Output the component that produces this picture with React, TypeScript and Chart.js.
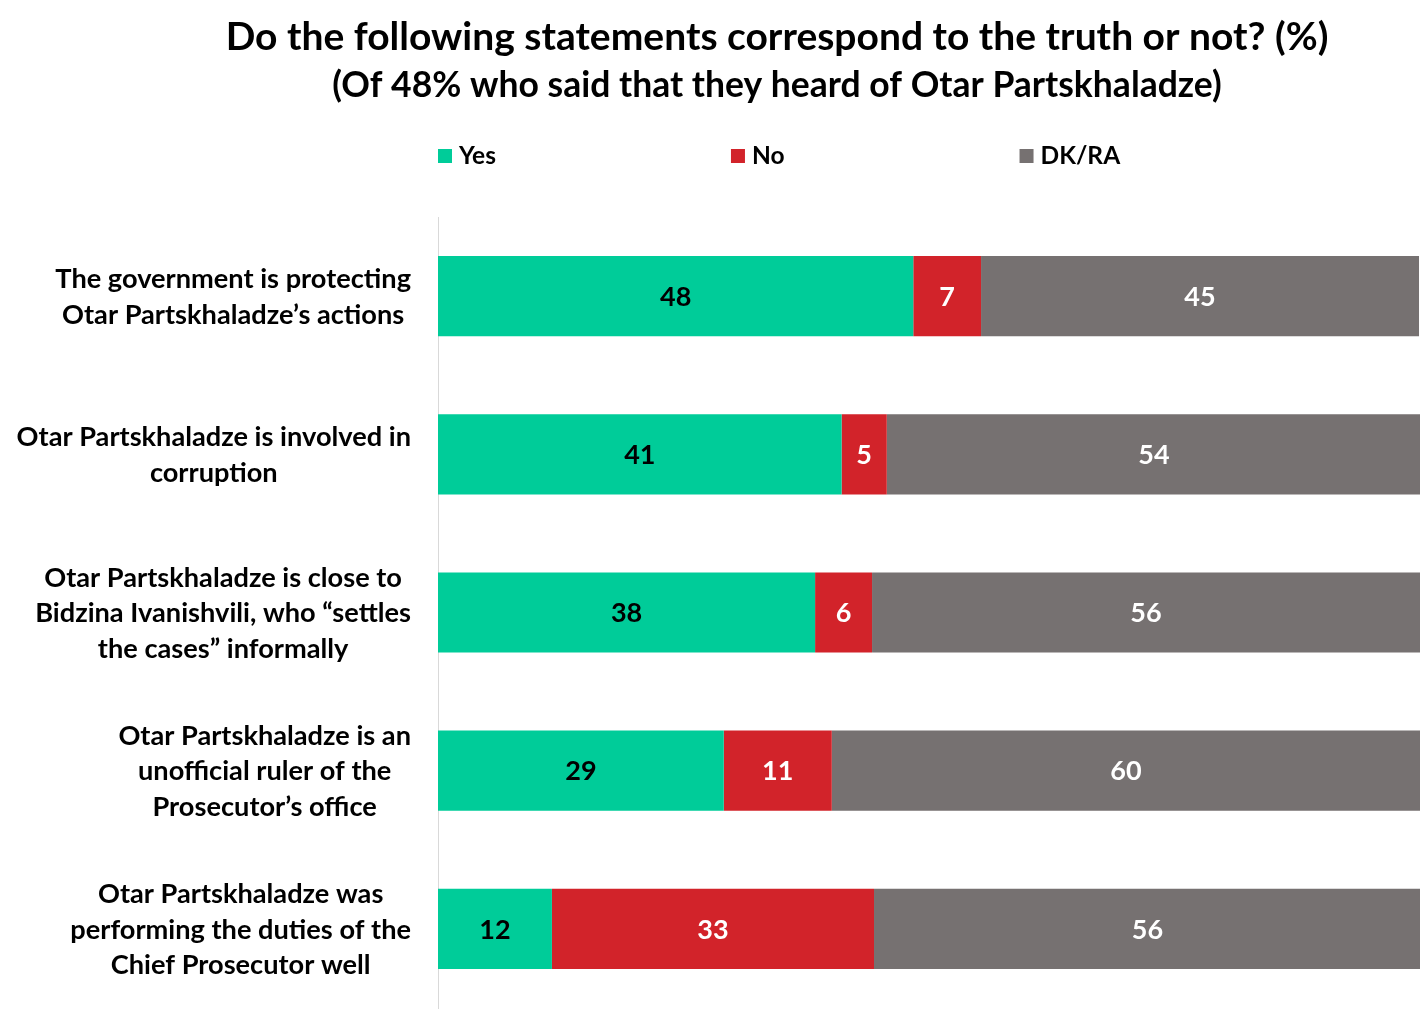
import React, { useEffect, useRef } from "react";
import { Chart, registerables } from "chart.js";

Chart.register(...registerables);

const titleLines = [
  "Do the following statements correspond to the truth or not? (%)",
  "(Of 48% who said that they heard of Otar Partskhaladze)",
];

const categories = [
  ["The government is protecting", "Otar Partskhaladze\u2019s actions"],
  ["Otar Partskhaladze is involved in", "corruption"],
  ["Otar Partskhaladze is close to", "Bidzina Ivanishvili, who \u201csettles", "the cases\u201d informally"],
  ["Otar Partskhaladze is an", "unofficial ruler of the", "Prosecutor\u2019s office"],
  ["Otar Partskhaladze was", "performing the duties of the", "Chief Prosecutor well"],
];

const seriesNames = ["Yes", "No", "DK/RA"];
const yesValues = [48.4, 41.1, 38.4, 29.1, 11.6];
const noValues = [6.9, 4.6, 5.8, 11.0, 32.8];
const dkValues = [44.6, 54.4, 55.8, 59.9, 55.7];

const seriesColors = ["#00CC99", "#D2232A", "#767171"];
const valueLabelColors = ["#000000", "#FFFFFF", "#FFFFFF"];

const FONT = "Lato, 'Noto Sans', sans-serif";
const TITLE_SIZES = [39, 35.5];
const LEGEND_SIZE = 24.5;
const CAT_SIZE = 27.2;
const VALUE_SIZE = 27;
const HEADER_CENTER_X = 777;

const headerPlugin = {
  id: "headerPlugin",
  afterDraw(chart: any) {
    const { ctx, chartArea } = chart;
    ctx.save();
    ctx.fillStyle = "#000000";
    ctx.textAlign = "center";
    ctx.textBaseline = "alphabetic";
    ctx.font = `bold ${TITLE_SIZES[0]}px ${FONT}`;
    ctx.fillText(titleLines[0], HEADER_CENTER_X, 50);
    ctx.font = `bold ${TITLE_SIZES[1]}px ${FONT}`;
    ctx.fillText(titleLines[1], HEADER_CENTER_X, 97);

    ctx.font = `bold ${LEGEND_SIZE}px ${FONT}`;
    ctx.textAlign = "left";
    let x = chartArea.left;
    chart.data.datasets.forEach((ds: any) => {
      ctx.fillStyle = ds.backgroundColor;
      ctx.fillRect(x, 149, 14, 14);
      ctx.fillStyle = "#000000";
      ctx.fillText(ds.label, x + 21, 164);
      x += 21 + ctx.measureText(ds.label).width + 235;
    });
    ctx.restore();
  },
};

const categoryLabelPlugin = {
  id: "categoryLabelPlugin",
  afterDraw(chart: any) {
    const { ctx, chartArea, scales } = chart;
    const yScale = scales.y;
    ctx.save();
    ctx.font = `bold ${CAT_SIZE}px ${FONT}`;
    ctx.fillStyle = "#000000";
    ctx.textAlign = "center";
    ctx.textBaseline = "alphabetic";
    const lineHeight = 35.5;
    const right = chartArea.left - 27;
    (chart.data.labels as string[][]).forEach((lines, i) => {
      const cy = yScale.getPixelForValue(i);
      const w = Math.max(...lines.map((l) => ctx.measureText(l).width));
      const cx = right - w / 2;
      lines.forEach((l, j) => {
        const ly = cy + (j - (lines.length - 1) / 2) * lineHeight;
        ctx.fillText(l, cx, ly + CAT_SIZE * 0.36);
      });
    });
    ctx.restore();
  },
};

const valueLabelPlugin = {
  id: "valueLabelPlugin",
  afterDatasetsDraw(chart: any) {
    const { ctx } = chart;
    ctx.save();
    ctx.font = `bold ${VALUE_SIZE}px ${FONT}`;
    ctx.textAlign = "center";
    ctx.textBaseline = "alphabetic";
    chart.data.datasets.forEach((ds: any, di: number) => {
      const meta = chart.getDatasetMeta(di);
      meta.data.forEach((bar: any, i: number) => {
        const { x, base, y } = bar.getProps(["x", "base", "y"], true);
        ctx.fillStyle = valueLabelColors[di];
        ctx.fillText(String(Math.round(ds.data[i])), (x + base) / 2, y + VALUE_SIZE * 0.36);
      });
    });
    ctx.restore();
  },
};

export default function App() {
  const canvasRef = useRef<HTMLCanvasElement | null>(null);

  useEffect(() => {
    if (!canvasRef.current) return;
    Chart.defaults.font.family = FONT;
    const valueSets = [yesValues, noValues, dkValues];
    const chart = new Chart(canvasRef.current, {
      type: "bar",
      data: {
        labels: categories,
        datasets: seriesNames.map((name, i) => ({
          label: name,
          data: valueSets[i],
          backgroundColor: seriesColors[i],
          borderWidth: 0,
          barPercentage: 0.507,
          categoryPercentage: 1,
        })),
      },
      options: {
        indexAxis: "y",
        animation: false,
        responsive: true,
        maintainAspectRatio: false,
        layout: { padding: { top: 217, bottom: 23, left: 0, right: 0 } },
        plugins: {
          legend: { display: false },
          title: { display: false },
          tooltip: { enabled: false },
        },
        scales: {
          x: { stacked: true, display: false, min: 0, max: 100 },
          y: {
            stacked: true,
            grid: { display: false },
            border: { display: true, color: "#D9D9D9", width: 1 },
            ticks: { display: false },
            afterFit(scale: any) {
              scale.width = 438;
            },
          },
        },
      } as any,
      plugins: [headerPlugin, categoryLabelPlugin, valueLabelPlugin],
    });
    return () => chart.destroy();
  }, []);

  return (
    <div style={{ position: "absolute", left: 0, top: 0, width: 1420, height: 1031, background: "#ffffff" }}>
      <canvas ref={canvasRef} />
    </div>
  );
}
